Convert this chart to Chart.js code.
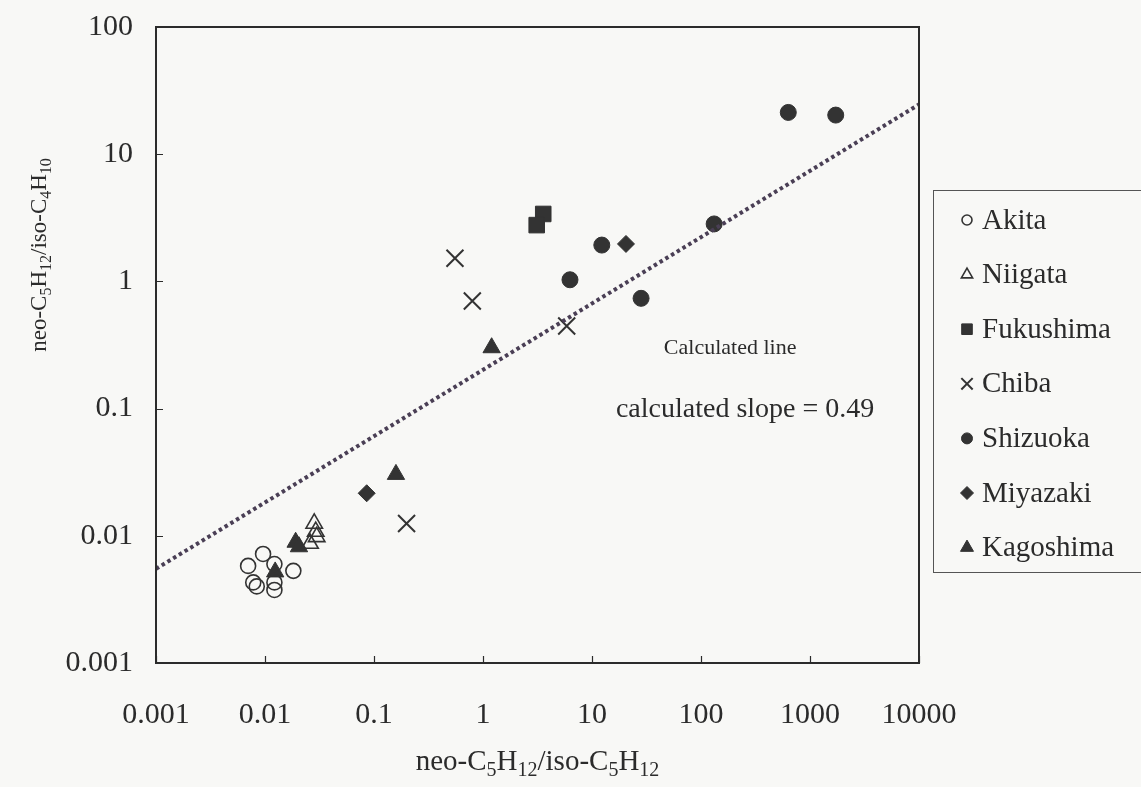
<!DOCTYPE html>
<html>
<head>
<meta charset="utf-8">
<title>neo-C5H12 ratios</title>
<script src="https://cdn.jsdelivr.net/npm/chart.js@4/dist/chart.umd.min.js"></script>
<style>
  html, body { margin: 0; padding: 0; background: #f8f8f6; }
  #wrap { width: 1141px; height: 787px; }
</style>
</head>
<body>
<div id="wrap"><canvas id="ratio-chart" width="1141" height="787"></canvas></div>
<script>
// x = neo-C5H12/iso-C5H12, y = neo-C5H12/iso-C4H10, one series per prefecture
const akitaX = [0.0070, 0.0096, 0.0122, 0.0078, 0.0084, 0.0122, 0.0122, 0.0182];
const akitaY = [0.0058, 0.0072, 0.0060, 0.0043, 0.0040, 0.0043, 0.00375, 0.0053];
const niigataX = [0.0283, 0.0292, 0.0298, 0.0259];
const niigataY = [0.0125, 0.0108, 0.0098, 0.0087];
const fukushimaX = [3.57, 3.11];
const fukushimaY = [3.39, 2.77];
const chibaX = [0.199, 0.553, 0.798, 5.86];
const chibaY = [0.0125, 1.52, 0.702, 0.446];
const shizuokaX = [6.28, 12.3, 28.2, 132, 632, 1722];
const shizuokaY = [1.03, 1.93, 0.736, 2.83, 21.3, 20.3];
const miyazakiX = [0.0857, 20.5];
const miyazakiY = [0.0216, 1.97];
const kagoshimaX = [0.0191, 0.0205, 0.0124, 0.159, 1.20];
const kagoshimaY = [0.0089, 0.0082, 0.0052, 0.0304, 0.301];

// calculated line, end points
const calcLineX = [0.001, 10000];
const calcLineY = [0.0055, 24.6];

const xTickValues = [0.001, 0.01, 0.1, 1, 10, 100, 1000, 10000];
const xTickLabels = ['0.001', '0.01', '0.1', '1', '10', '100', '1000', '10000'];
const yTickValues = [0.001, 0.01, 0.1, 1, 10, 100];
const yTickLabels = ['0.001', '0.01', '0.1', '1', '10', '100'];

const ink = '#2b2b2b';
const serif = "'Liberation Serif', 'Times New Roman', serif";

function pts(xs, ys) {
    return xs.map((x, i) => ({ x: x, y: ys[i] }));
}

function series(label, xs, ys, style, radius, filled, legendRadius) {
    return {
        label: label,
        data: pts(xs, ys),
        pointStyle: style,
        pointRadius: radius,
        pointHoverRadius: radius,
        pointBackgroundColor: filled ? '#333333' : 'rgba(0,0,0,0)',
        pointBorderColor: '#333333',
        pointBorderWidth: filled ? 1 : (style === 'crossRot' ? 2 : 1.6),
        showLine: false,
        legendRadius: legendRadius
    };
}

// draws text with chemical-formula subscripts, parts = [[text, isSub], ...]
function drawFormula(ctx, parts, cx, cy, size) {
    const subSize = Math.round(size * 0.68);
    let total = 0;
    parts.forEach(p => {
        ctx.font = (p[1] ? subSize : size) + 'px ' + serif;
        total += ctx.measureText(p[0]).width;
    });
    let x = cx - total / 2;
    ctx.textAlign = 'left';
    ctx.textBaseline = 'alphabetic';
    parts.forEach(p => {
        ctx.font = (p[1] ? subSize : size) + 'px ' + serif;
        ctx.fillText(p[0], x, cy + (p[1] ? size * 0.22 : 0));
        x += ctx.measureText(p[0]).width;
    });
}

const xTitle = [['neo-C', 0], ['5', 1], ['H', 0], ['12', 1], ['/iso-C', 0], ['5', 1], ['H', 0], ['12', 1]];
const yTitle = [['neo-C', 0], ['5', 1], ['H', 0], ['12', 1], ['/iso-C', 0], ['4', 1], ['H', 0], ['10', 1]];

const pageFill = {
    id: 'pageFill',
    beforeDraw(chart) {
        const ctx = chart.ctx;
        ctx.save();
        ctx.fillStyle = '#f8f8f6';
        ctx.fillRect(0, 0, chart.width, chart.height);
        ctx.restore();
    }
};

const frame = {
    id: 'frame',
    afterDraw(chart) {
        const ctx = chart.ctx;
        const a = chart.chartArea;
        const xs = chart.scales.x, ys = chart.scales.y;
        ctx.save();
        ctx.strokeStyle = ink;
        ctx.lineWidth = 2;
        ctx.strokeRect(a.left, a.top, a.right - a.left, a.bottom - a.top);

        // inward tick marks
        ctx.lineWidth = 1.2;
        ctx.beginPath();
        xs.ticks.forEach(t => {
            const px = Math.round(xs.getPixelForValue(t.value)) + 0.5;
            ctx.moveTo(px, a.bottom);
            ctx.lineTo(px, a.bottom - 7);
        });
        ys.ticks.forEach(t => {
            const py = Math.round(ys.getPixelForValue(t.value)) + 0.5;
            ctx.moveTo(a.left, py);
            ctx.lineTo(a.left + 7, py);
        });
        ctx.stroke();

        // axis titles
        ctx.fillStyle = ink;
        drawFormula(ctx, xTitle, (a.left + a.right) / 2, 770, 29);
        ctx.save();
        ctx.translate(46, 255);
        ctx.rotate(-Math.PI / 2);
        drawFormula(ctx, yTitle, 0, 0, 23);
        ctx.restore();

        // notes on the calculated line
        ctx.font = '22px ' + serif;
        ctx.textAlign = 'center';
        ctx.textBaseline = 'middle';
        ctx.fillText('Calculated line', xs.getPixelForValue(185), ys.getPixelForValue(0.3));
        ctx.font = '28px ' + serif;
        ctx.fillText('calculated slope = 0.49', xs.getPixelForValue(254), ys.getPixelForValue(0.0975));
        ctx.restore();
    }
};

const boxLegend = {
    id: 'boxLegend',
    afterDraw(chart) {
        const ctx = chart.ctx;
        const a = chart.chartArea;
        const left = a.right + 14;
        const top = 190, bottom = 572;
        const rowTop = 220, rowStep = 54.6;
        ctx.save();
        ctx.strokeStyle = '#555555';
        ctx.lineWidth = 1;
        ctx.strokeRect(left + 0.5, top + 0.5, chart.width, bottom - top);
        ctx.font = '29px ' + serif;
        ctx.textAlign = 'left';
        ctx.textBaseline = 'middle';
        let row = 0;
        chart.data.datasets.forEach(ds => {
            if (!ds.legendRadius) return;
            const y = rowTop + row * rowStep;
            ctx.fillStyle = ds.pointBackgroundColor;
            ctx.strokeStyle = ds.pointBorderColor;
            ctx.lineWidth = ds.pointBorderWidth;
            Chart.helpers.drawPoint(ctx, {
                pointStyle: ds.pointStyle,
                radius: ds.legendRadius,
                rotation: 0,
                borderWidth: ds.pointBorderWidth
            }, left + 34, y);
            ctx.fillStyle = ink;
            ctx.fillText(ds.label, left + 49, y + 1);
            row++;
        });
        ctx.restore();
    }
};

new Chart(document.getElementById('ratio-chart'), {
    type: 'scatter',
    data: {
        datasets: [
            {
                label: 'Calculated line',
                data: pts(calcLineX, calcLineY),
                showLine: true,
                borderColor: '#4a3f55',
                borderWidth: 4,
                borderDash: [3.5, 3.2],
                pointRadius: 0,
                fill: false,
                order: -1
            },
            series('Akita', akitaX, akitaY, 'circle', 7.5, false, 5),
            series('Niigata', niigataX, niigataY, 'triangle', 9.5, false, 6.5),
            series('Fukushima', fukushimaX, fukushimaY, 'rect', 11, true, 7.5),
            series('Chiba', chibaX, chibaY, 'crossRot', 12, false, 8),
            series('Shizuoka', shizuokaX, shizuokaY, 'circle', 8, true, 5.5),
            series('Miyazaki', miyazakiX, miyazakiY, 'rectRot', 8.5, true, 6.5),
            series('Kagoshima', kagoshimaX, kagoshimaY, 'triangle', 10, true, 7.5)
        ]
    },
    options: {
        responsive: false,
        devicePixelRatio: 1,
        animation: false,
        layout: { padding: { top: 27, right: 222, left: 0, bottom: 0 } },
        plugins: {
            legend: { display: false },
            tooltip: { enabled: false }
        },
        scales: {
            x: {
                type: 'logarithmic',
                position: 'bottom',
                min: 0.001,
                max: 10000,
                grid: { drawOnChartArea: false, drawTicks: false },
                border: { display: false },
                afterBuildTicks: s => { s.ticks = xTickValues.map(v => ({ value: v })); },
                afterFit: s => { s.height = 124; s.paddingLeft = 0; s.paddingRight = 0; },
                ticks: {
                    autoSkip: false,
                    maxRotation: 0,
                    padding: 34,
                    color: ink,
                    font: { family: serif, size: 30 },
                    callback: v => xTickLabels[xTickValues.indexOf(v)]
                }
            },
            y: {
                type: 'logarithmic',
                position: 'left',
                min: 0.001,
                max: 100,
                grid: { drawOnChartArea: false, drawTicks: false },
                border: { display: false },
                afterBuildTicks: s => { s.ticks = yTickValues.map(v => ({ value: v })); },
                afterFit: s => { s.width = 156; s.paddingTop = 0; s.paddingBottom = 0; },
                ticks: {
                    autoSkip: false,
                    padding: 23,
                    color: ink,
                    font: { family: serif, size: 30 },
                    callback: v => yTickLabels[yTickValues.indexOf(v)]
                }
            }
        }
    },
    plugins: [pageFill, frame, boxLegend]
});
</script>
</body>
</html>
